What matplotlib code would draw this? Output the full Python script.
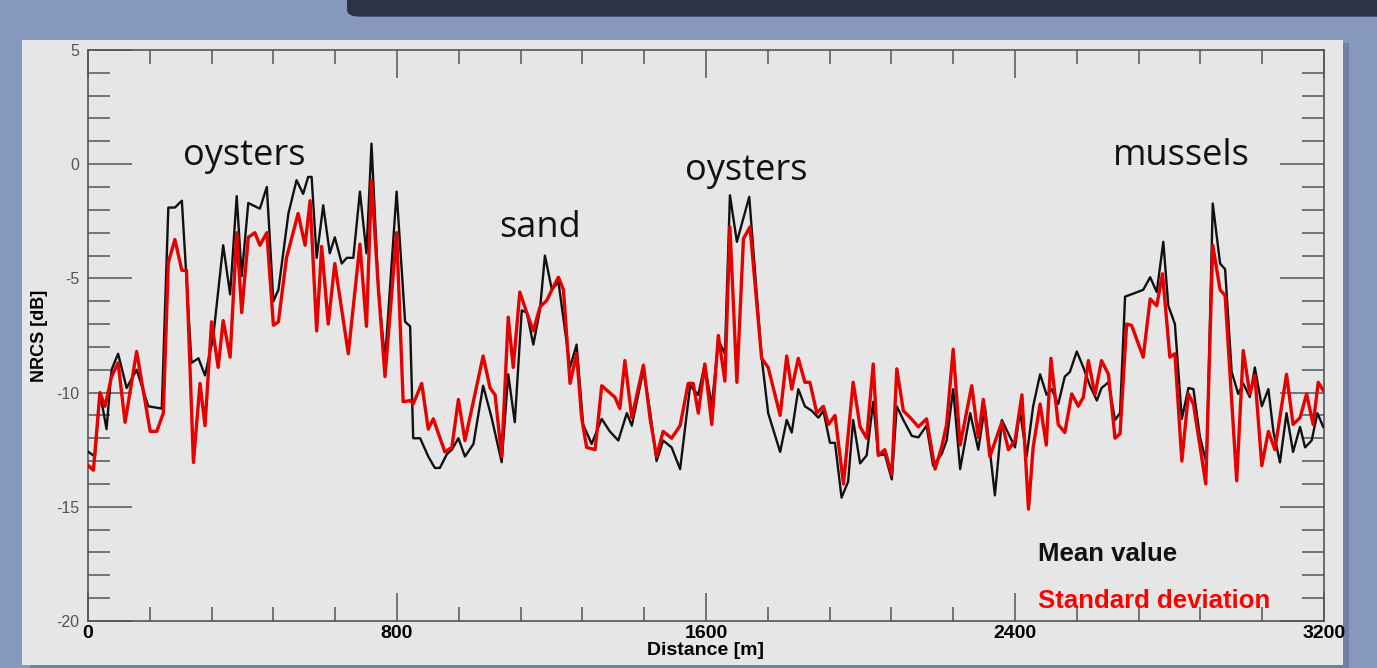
import matplotlib
matplotlib.use('Agg')
import matplotlib.pyplot as plt
from matplotlib.patches import Rectangle, FancyBboxPatch
from matplotlib.ticker import MultipleLocator

# mean value (black), distance in m / NRCS in dB
dist_mean = [1, 18, 31, 48, 61, 78, 100, 126, 156, 191, 208, 225, 243, 268, 286, 303, 324, 350, 368, 385,
             398, 415, 445, 463, 480, 493, 519, 540, 557, 570, 579, 592, 609, 626, 639, 657, 670, 687, 704, 721,
             734, 752, 769, 799, 821, 834, 842, 860, 881, 898, 911, 929, 942, 959, 976, 998, 1023, 1045, 1071, 1088,
             1105, 1123, 1136, 1153, 1170, 1183, 1201, 1218, 1248, 1265, 1282, 1304, 1330, 1351, 1373, 1395, 1408, 1438, 1455, 1472,
             1489, 1511, 1533, 1559, 1580, 1597, 1615, 1632, 1649, 1662, 1680, 1712, 1744, 1761, 1792, 1809, 1822, 1839, 1856, 1874,
             1891, 1904, 1921, 1934, 1951, 1968, 1981, 1999, 2016, 2033, 2046, 2063, 2081, 2094, 2111, 2133, 2150, 2171, 2188, 2210,
             2223, 2240, 2258, 2284, 2305, 2322, 2348, 2366, 2383, 2400, 2413, 2430, 2447, 2465, 2482, 2495, 2512, 2529, 2542, 2560,
             2577, 2594, 2612, 2624, 2642, 2659, 2672, 2685, 2706, 2732, 2750, 2767, 2784, 2797, 2814, 2832, 2849, 2862, 2879, 2896,
             2912, 2931, 2944, 2961, 2978, 2991, 3008, 3021, 3039, 3056, 3069, 3086, 3103, 3120, 3138, 3151, 3168, 3183, 3198]
mean_db = [-12.6, -12.8, -10.0, -11.6, -9.0, -8.3, -9.8, -9.0, -10.6, -10.7, -1.9, -1.9, -1.6, -8.7, -8.5, -9.25, -7.6, -3.55, -5.7, -1.4,
           -4.9, -1.7, -1.95, -1.0, -6.0, -5.5, -2.15, -0.7, -1.3, -0.56, -0.56, -4.1, -1.8, -3.9, -3.2, -4.35, -4.1, -4.1, -1.2, -3.9,
           0.9, -5.5, -8.6, -1.2, -6.9, -7.1, -12.0, -12.0, -12.8, -13.3, -13.3, -12.7, -12.5, -12.0, -12.8, -12.25, -9.7, -11.1, -13.05, -9.2,
           -11.3, -6.4, -6.5, -7.9, -6.4, -4.0, -5.5, -5.15, -8.9, -7.9, -11.4, -12.25, -11.15, -11.7, -12.1, -10.9, -11.45, -9.0, -10.8, -13.0,
           -12.1, -12.4, -13.35, -9.7, -10.1, -8.75, -10.6, -7.7, -8.3, -1.36, -3.4, -1.43, -8.45, -10.9, -12.6, -11.2, -11.75, -9.85, -10.6, -10.8,
           -11.1, -10.8, -12.2, -12.2, -14.6, -13.9, -11.2, -13.1, -12.75, -10.4, -12.75, -12.7, -13.8, -10.6, -11.2, -11.9, -11.96, -11.45, -13.2, -12.7,
           -12.1, -9.85, -13.35, -10.9, -12.5, -10.6, -14.5, -11.2, -11.8, -12.4, -10.8, -12.8, -10.6, -9.2, -10.1, -9.85, -10.5, -9.3, -9.1, -8.2,
           -8.9, -9.7, -10.35, -9.8, -9.55, -11.2, -10.9, -5.8, -5.67, -5.5, -4.95, -5.6, -3.4, -6.2, -7.0, -11.15, -9.8, -9.85, -11.96, -13.1,
           -1.72, -4.35, -4.6, -9.1, -10.06, -9.6, -10.2, -8.9, -10.6, -9.85, -11.7, -13.06, -10.9, -12.6, -11.5, -12.4, -12.1, -10.9, -11.5]

# standard deviation (red)
dist_std = [1, 14, 31, 44, 61, 78, 96, 126, 161, 178, 195, 208, 225, 243, 255, 273, 290, 303, 320, 337,
            350, 368, 385, 398, 415, 432, 445, 463, 480, 493, 514, 544, 562, 575, 592, 605, 622, 639, 674, 704,
            721, 734, 752, 769, 799, 816, 834, 842, 864, 881, 894, 924, 942, 959, 976, 1023, 1041, 1054, 1071, 1088,
            1101, 1118, 1136, 1153, 1170, 1188, 1201, 1218, 1231, 1248, 1265, 1278, 1291, 1313, 1330, 1364, 1377, 1390, 1408, 1438,
            1455, 1472, 1489, 1511, 1533, 1554, 1567, 1580, 1597, 1615, 1632, 1649, 1662, 1680, 1697, 1714, 1744, 1761, 1792, 1809,
            1822, 1839, 1856, 1869, 1887, 1904, 1917, 1934, 1956, 1981, 1999, 2016, 2033, 2046, 2063, 2081, 2094, 2111, 2129, 2150,
            2171, 2193, 2210, 2223, 2240, 2258, 2288, 2305, 2318, 2335, 2366, 2383, 2400, 2418, 2435, 2447, 2465, 2481, 2493, 2512,
            2529, 2547, 2564, 2577, 2590, 2607, 2624, 2642, 2659, 2672, 2689, 2702, 2732, 2750, 2767, 2782, 2801, 2814, 2832, 2849,
            2862, 2894, 2912, 2931, 2944, 2974, 2991, 3008, 3021, 3039, 3056, 3073, 3103, 3120, 3138, 3155, 3172, 3185, 3198]
std_db = [-13.2, -13.4, -10.0, -10.6, -9.3, -8.7, -11.3, -8.2, -11.7, -11.7, -10.9, -4.3, -3.3, -4.65, -4.65, -13.06, -9.6, -11.45, -6.9, -8.9,
          -6.85, -8.45, -3.0, -6.5, -3.2, -3.0, -3.55, -3.0, -7.05, -6.9, -4.1, -2.16, -3.55, -1.6, -7.3, -3.6, -7.0, -4.35, -8.3, -3.5,
          -7.1, -0.7, -5.5, -9.3, -3.0, -10.4, -10.35, -10.5, -9.6, -11.6, -11.15, -12.6, -12.4, -10.3, -12.1, -8.4, -9.8, -10.1, -12.8, -6.7,
          -8.9, -5.6, -6.5, -7.3, -6.26, -5.96, -5.5, -4.95, -5.5, -9.6, -8.3, -11.1, -12.4, -12.5, -9.7, -10.2, -10.7, -8.6, -11.1, -8.8,
          -11.1, -12.8, -11.7, -12.0, -11.45, -9.6, -9.6, -10.9, -8.75, -11.4, -7.5, -9.5, -2.75, -9.55, -3.26, -2.75, -8.5, -8.9, -11.0, -8.4,
          -9.85, -8.5, -9.55, -9.55, -10.9, -10.6, -11.4, -11.0, -14.0, -9.55, -11.5, -12.0, -8.75, -12.75, -12.5, -13.6, -8.96, -10.8, -11.1, -11.5,
          -11.15, -13.35, -12.4, -11.4, -8.1, -12.3, -9.7, -11.96, -10.3, -12.8, -11.3, -12.5, -12.1, -10.1, -15.1, -12.4, -10.5, -12.3, -8.5, -11.4,
          -11.75, -10.06, -10.6, -10.2, -8.6, -10.1, -8.6, -9.2, -12.0, -11.8, -7.0, -7.06, -8.45, -5.9, -6.2, -4.8, -8.45, -8.3, -13.0, -10.06,
          -10.5, -14.0, -3.55, -5.5, -5.75, -13.86, -8.16, -10.06, -9.25, -13.2, -11.7, -12.5, -9.2, -11.4, -11.1, -10.06, -11.4, -9.55, -9.9]

xticks = [0, 800, 1600, 2400, 3200]
yticks = [5, 0, -5, -10, -15, -20]
site_labels = ['oysters', 'sand', 'oysters', 'mussels']
legend_labels = ['Mean value', 'Standard deviation']

fig = plt.figure(figsize=(13.77, 6.68), dpi=100)
fig.patch.set_facecolor('#8798bd')

# dark banner at the top and the gray panel with a soft shadow (behind the axes)
fig.add_artist(FancyBboxPatch((0.252, 0.975), 0.76, 0.06, boxstyle='round,pad=0,rounding_size=0.01',
                              transform=fig.transFigure, facecolor='#2c3347', edgecolor='none', zorder=-10))
fig.add_artist(Rectangle((0.022, -0.01), 0.958, 0.945, transform=fig.transFigure,
                         facecolor='#6f7fa3', edgecolor='none', zorder=-10))
fig.add_artist(Rectangle((0.016, 0.0045), 0.9595, 0.9356, transform=fig.transFigure,
                         facecolor='#e6e6e6', edgecolor='none', zorder=-9))

ax = fig.add_axes([0.0639, 0.0704, 0.8976, 0.8548])
ax.set_facecolor('none')

ax.plot(dist_mean, mean_db, color='#111111', lw=1.7, zorder=3)
ax.plot(dist_std, std_db, color='#e60000', lw=2.4, zorder=4)

ax.set_xlim(0, 3200)
ax.set_ylim(-20, 5)
ax.set_xticks(xticks)
ax.set_xticklabels([str(t) for t in xticks], fontsize=14, fontweight='bold', family='Liberation Sans')
ax.set_yticks(yticks)
ax.set_yticklabels([str(t) for t in yticks], fontsize=11.5, color='#555555', family='Liberation Sans')
ax.xaxis.set_minor_locator(MultipleLocator(160))
ax.yaxis.set_minor_locator(MultipleLocator(1))

ax.tick_params(axis='x', which='major', direction='in', length=20, width=1.1, color='#555555',
               top=True, bottom=True, pad=3)
ax.tick_params(axis='x', which='minor', direction='in', length=10, width=1.1, color='#555555',
               top=True, bottom=True)
ax.tick_params(axis='y', which='major', direction='in', length=32, width=1.1, color='#555555',
               left=True, right=True, pad=6)
ax.tick_params(axis='y', which='minor', direction='in', length=16, width=1.1, color='#555555',
               left=True, right=True)
for sp in ax.spines.values():
    sp.set_color('#555555')
    sp.set_linewidth(1.2)

ax.set_xlabel('Distance [m]', fontsize=14, fontweight='bold', family='Liberation Sans', labelpad=0)
ax.set_ylabel('NRCS [dB]', fontsize=13, fontweight='bold', family='Liberation Sans', labelpad=6)

# site annotations
ax.text(404, -0.05, site_labels[0], fontsize=26, family='Open Sans', ha='center', va='baseline', color='#111111')
ax.text(1170, -3.2, site_labels[1], fontsize=26, family='Open Sans', ha='center', va='baseline', color='#111111')
ax.text(1704, -0.7, site_labels[2], fontsize=26, family='Open Sans', ha='center', va='baseline', color='#111111')
ax.text(2830, -0.05, site_labels[3], fontsize=26, family='Open Sans', ha='center', va='baseline', color='#111111')

# colour key
ax.text(2460, -17.37, legend_labels[0], fontsize=18.5, fontweight='bold', family='Liberation Sans',
        color='#111111', va='baseline')
ax.text(2460, -19.43, legend_labels[1], fontsize=18.5, fontweight='bold', family='Liberation Sans',
        color='#ff0000', va='baseline')

fig.savefig('out.png', dpi=100, facecolor=fig.get_facecolor())
